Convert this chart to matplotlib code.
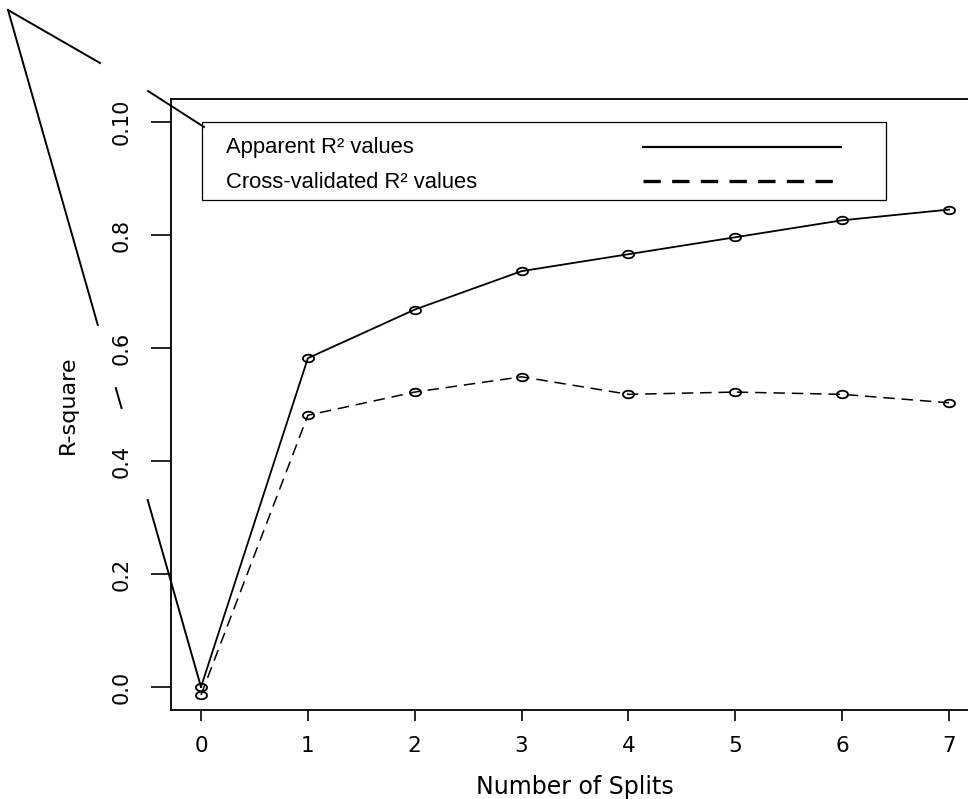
import matplotlib
matplotlib.use("Agg")
import matplotlib.pyplot as plt
from matplotlib.lines import Line2D
from matplotlib.patches import Rectangle
import numpy as np

# values
splits = [0, 1, 2, 3, 4, 5, 6, 7]
apparent_r2 = [0.0, 0.582, 0.668, 0.736, 0.766, 0.796, 0.826, 0.845]
cv_r2 = [-0.014, 0.481, 0.522, 0.549, 0.518, 0.522, 0.518, 0.503]
ytick_vals = [0.0, 0.2, 0.4, 0.6, 0.8, 1.0]
ytick_labels = ["0.0", "0.2", "0.4", "0.6", "0.8", "0.10"]

W, H = 968, 799

def px(x, y):
    # pixel position (top-left origin) -> figure fraction
    return x / W, 1 - y / H

fig = plt.figure(figsize=(W / 100, H / 100), dpi=100)
ax = fig.add_axes([171.1 / W, (H - 709.6) / H, 807.8 / W, 610.2 / H])
ax.set_xlim(-0.28, 7.28)
ax.set_ylim(-0.04, 1.04)

# open elliptical point symbol
t = np.linspace(0, 2 * np.pi, 41)
ell = list(zip(np.cos(t), 0.68 * np.sin(t)))

ax.plot(splits, apparent_r2, color="black", lw=1.3, marker=ell, ms=8,
        mfc="none", mec="black", mew=1.3)
ax.plot(splits, cv_r2, color="black", lw=1.1, linestyle=(0, (7.5, 4.5)),
        marker=ell, ms=8, mfc="none", mec="black", mew=1.3)

for s in ax.spines.values():
    s.set_linewidth(1.3)

ax.set_xticks(splits)
ax.set_yticks(ytick_vals)
ax.set_yticklabels(ytick_labels)
ax.tick_params(axis="x", length=8, width=1.2, pad=11, labelsize=15.5)
ax.tick_params(axis="y", length=14.4, width=1.2, pad=14, labelsize=15)
for lab in ax.get_yticklabels():
    lab.set_rotation(90)
    lab.set_va("center")
for lab in ax.get_xticklabels() + ax.get_yticklabels():
    lab.set_family("DejaVu Sans")

ax.set_xlabel("Number of Splits", fontsize=17, family="DejaVu Sans", labelpad=14)
ax.set_ylabel("R-square", fontsize=16, family="DejaVu Sans", labelpad=24)

# legend box drawn R style: text on the left, line sample on the right
x0, y0 = px(202, 200)
x1, y1 = px(886, 122)
fig.add_artist(Rectangle((x0, y0), x1 - x0, y1 - y0, transform=fig.transFigure,
                         fill=True, facecolor="white", edgecolor="black", lw=0.9))
fig.text(*px(226, 148), "Apparent R\u00b2 values", family="Liberation Sans",
         fontsize=15.8, va="center", ha="left")
fig.text(*px(226, 182), "Cross-validated R\u00b2 values", family="Liberation Sans",
         fontsize=15.8, va="center", ha="left")
lx0, _ = px(643, 0)
lx1, _ = px(841, 0)
fig.add_artist(Line2D([lx0, lx1], [px(0, 147)[1]] * 2, transform=fig.transFigure,
                      color="black", lw=1.6))
fig.add_artist(Line2D([lx0, lx1], [px(0, 181)[1]] * 2, transform=fig.transFigure,
                      color="black", lw=2.4, linestyle=(0, (5.2, 3.4))))

# stray segments that sit outside the plot region in the reference
stray = [
    [(8, 10), (100, 63)],
    [(148, 91), (204, 127)],
    [(8, 10), (97.8, 325)],
    [(115.8, 388), (121.5, 408)],
    [(147.7, 500), (201, 687)],
]
for seg in stray:
    xs, ys = zip(*[px(x, y) for x, y in seg])
    fig.add_artist(Line2D(xs, ys, transform=fig.transFigure, color="black", lw=1.4))

fig.savefig("out.png", dpi=100)
